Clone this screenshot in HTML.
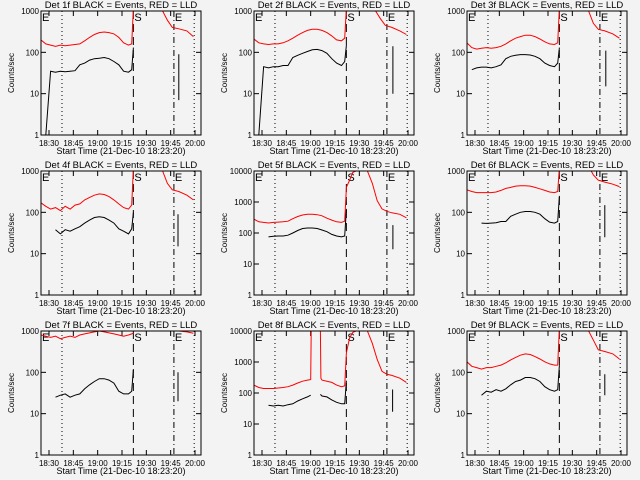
<!DOCTYPE html>
<html><head><meta charset="utf-8"><style>
html,body{margin:0;padding:0;background:#f3f3f3;}
svg{display:block;font-family:"Liberation Sans",sans-serif;}
</style></head><body>
<svg id="chart" width="640" height="480" viewBox="0 0 640 480" xmlns="http://www.w3.org/2000/svg"></svg>
<script>
const xTickLabels = ["18:30","18:45","19:00","19:15","19:30","19:45","20:00"];
const xTickMinutes = [30,45,60,75,90,105,120];
const panelTitles = ["Det 1f","Det 2f","Det 3f","Det 4f","Det 5f","Det 6f","Det 7f","Det 8f","Det 9f"];
const panelDecades = [3,3,3,3,4,3,3,4,3];
const markerTimes = [38,82,107,119.5];
const TA = [25,28,31,34,37,40,43,46,49,52,55,58,61,64,67,70,73,76,79,81,82];

const red1 = [200,160,150,140,150,145,150,155,160,190,230,270,300,310,300,280,230,170,150,160,1200];
const blk1 = [null,1,35,33,35,34,35,36,50,55,65,70,72,75,70,60,50,35,33,38,130];
const red2 = [210,170,160,155,160,160,170,190,220,260,300,340,360,360,340,300,250,200,190,220,1200];
const blk2 = [null,1,45,42,45,45,48,48,75,85,95,105,115,118,110,95,70,55,48,60,150];
const red3 = [170,130,120,125,130,125,130,140,160,190,220,240,260,260,240,210,180,160,155,170,1200];
const blk3 = [null,38,42,44,44,42,45,50,70,80,85,88,88,86,80,70,55,48,45,55,130];
const red4 = [170,140,120,130,110,140,120,150,160,200,230,260,280,270,240,200,160,130,120,150,1200];
const blk4 = [null,null,null,38,30,38,35,40,45,55,65,75,78,75,65,55,40,35,30,40,100];
const red5 = [280,230,220,210,220,225,230,240,290,340,380,400,400,390,360,300,260,230,220,240,3000];
const blk5 = [null,null,null,75,78,80,80,85,100,120,140,145,145,140,125,110,90,80,75,80,600];
const red6 = [350,320,300,300,300,300,310,340,380,400,430,440,440,430,400,370,340,310,300,320,1200];
const blk6 = [null,null,null,55,54,55,56,60,60,80,90,100,105,105,100,90,70,58,55,60,250];
const red7 = [800,750,700,750,650,700,750,700,800,850,900,950,1000,950,900,850,800,750,800,850,900];
const blk7 = [null,null,null,25,28,30,25,28,30,40,50,60,70,70,65,55,35,30,30,35,120];
const red9 = [180,140,130,120,130,130,140,150,170,200,230,260,280,270,240,210,180,160,150,150,1200];
const blk9 = [null,null,null,28,35,33,38,35,40,50,60,65,75,75,70,60,45,38,35,38,150];

const red8T = [25,28,31,34,37,40,43,46,49,52,55,58,60,60.3,66,66.3,67,70,73,76,79,81,82,84,86,88,90,92,95,98,101,104,107,110,115,119];
const red8 = [180,150,140,140,140,145,150,160,180,210,240,260,270,10000,10000,300,260,240,220,180,160,170,2000,6000,9000,10000,10000,10000,10000,4000,1200,500,400,370,300,220];
const blk8T = [34,37,40,43,46,49,52,55,58,60,63,66,67,70,73,76,79,81,82];
const blk8 = [40,38,40,38,42,45,55,65,75,85,null,90,80,75,60,50,45,45,250];

const post5T = [84,86,88,90,92,95,98,101,104,107,110,115,119];
const post5 = [5000,9000,10000,10000,10000,10000,4000,1100,600,500,450,400,310];

const postT = [100,103,106,110,115,119];
const postRed1 = [1000,600,400,370,330,240];
const postRed2 = [1000,650,450,400,330,270];
const postRed3 = [1000,500,360,330,280,220];
const postRed4 = [1000,500,350,320,260,200];
const postRed6 = [1300,800,600,540,480,420];
const postRed7 = [null,null,1000,1000,950,880];
const postRed9 = [1000,600,350,320,280,210];

const segT = [110,110.7,110.6,109.5,110.7,110,109.5,110.5,110];
const segHi = [90,140,110,90,180,150,100,130,90];
const segLo = [7,10,15,15,30,25,20,25,28];

const NS="http://www.w3.org/2000/svg";
const svg=document.getElementById('chart');
function mk(tag,attrs,parent){const e=document.createElementNS(NS,tag);for(const k in attrs)e.setAttribute(k,attrs[k]);(parent||svg).appendChild(e);return e;}
const colX=[41,254,467], rowY=[11,171,331], W=160, H=124;

function pathFrom(ts,vs,xf,yf){let d="",pen=false;for(let i=0;i<ts.length;i++){const v=vs[i];if(v==null||v<=0){pen=false;continue;}d+=(pen?"L":"M")+xf(ts[i]).toFixed(1)+","+yf(v).toFixed(1);pen=true;}return d;}

const preRed=[red1,red2,red3,red4,red5,red6,red7,null,red9];
const preBlk=[blk1,blk2,blk3,blk4,blk5,blk6,blk7,null,blk9];
const postReds=[postRed1,postRed2,postRed3,postRed4,null,postRed6,postRed7,null,postRed9];

for(let p=0;p<9;p++){
  const L=colX[p%3], T=rowY[Math.floor(p/3)], B=T+H, R=L+W, dec=panelDecades[p];
  const xf=t=>L+8+(t-30)*146/90;
  const yf=v=>B-Math.log10(v)/dec*H;
  const g=mk('g',{});
  
  
  const cid='clip'+p;
  const cp=mk('clipPath',{id:cid},g);mk('rect',{x:L,y:T,width:W,height:H},cp);
  const title=mk('text',{x:L+W/2,y:T-3,'font-size':9.5,'text-anchor':'middle',fill:'#000'},g);
  title.textContent=panelTitles[p]+" BLACK = Events, RED = LLD";
  
  
  const yl=mk('text',{x:0,y:0,'font-size':8,'text-anchor':'middle',transform:`translate(${L-27},${T+H/2}) rotate(-90)`},g);
  yl.textContent="Counts/sec";
  
  
  const xl=mk('text',{x:L+W/2,y:B+19,'font-size':9,'text-anchor':'middle'},g);
  xl.textContent="Start Time (21-Dec-10 18:23:20)";
  
  
  for(let i=0;i<xTickMinutes.length;i++){const x=xf(xTickMinutes[i]);
    mk('line',{x1:x,y1:B,x2:x,y2:B-5,stroke:'#000','stroke-width':1},g);
    mk('line',{x1:x,y1:T,x2:x,y2:T+5,stroke:'#000','stroke-width':1},g);
    const tl=mk('text',{x:x,y:B+11,'font-size':8,'text-anchor':'middle'},g);tl.textContent=xTickLabels[i];
    
    }
  for(let d=0;d<=dec;d++){const y=yf(Math.pow(10,d));
    mk('line',{x1:L,y1:y,x2:L+5,y2:y,stroke:'#000'},g);mk('line',{x1:R,y1:y,x2:R-5,y2:y,stroke:'#000'},g);
    const t=mk('text',{x:L-2,y:y+3,'font-size':8,'text-anchor':'end'},g);t.textContent=String(Math.pow(10,d));
    
    }
  const dashes=['1,3','8,5','6,3,1,3','1,3'];
  markerTimes.forEach((mt,i)=>{const x=xf(mt);const ln=mk('line',{x1:x,y1:T,x2:x,y2:B,stroke:'#000','stroke-dasharray':dashes[i]},g);
    
    });
  [[L+1,'E'],[xf(82)+1,'S'],[xf(107)+1,'E']].forEach(m=>{const t=mk('text',{x:m[0],y:T+10,'font-size':11},g);t.textContent=m[1];
    
    });
  const dg=mk('g',{'clip-path':`url(#${cid})`,fill:'none'},g);
  let rd,bd;
  if(p===7){rd=pathFrom(red8T,red8,xf,yf);bd=pathFrom(blk8T,blk8,xf,yf);}
  else{rd=pathFrom(TA,preRed[p],xf,yf);bd=pathFrom(TA,preBlk[p],xf,yf);
    if(p===4)rd+=pathFrom(post5T,post5,xf,yf).replace(/^M/,'L');
    else rd+=pathFrom(postT,postReds[p],xf,yf);}
  bd+=pathFrom([segT[p],segT[p]],[segHi[p],segLo[p]],xf,yf);
  const rp=mk('path',{d:rd,stroke:'#ff0000','stroke-width':1},dg);
  
  
  const bp=mk('path',{d:bd,stroke:'#000','stroke-width':1},dg);
  
  
  const fr=mk('rect',{x:L,y:T,width:W,height:H,fill:'none',stroke:'#000','stroke-width':1},g);
  
  
}
</script>
</body></html>
